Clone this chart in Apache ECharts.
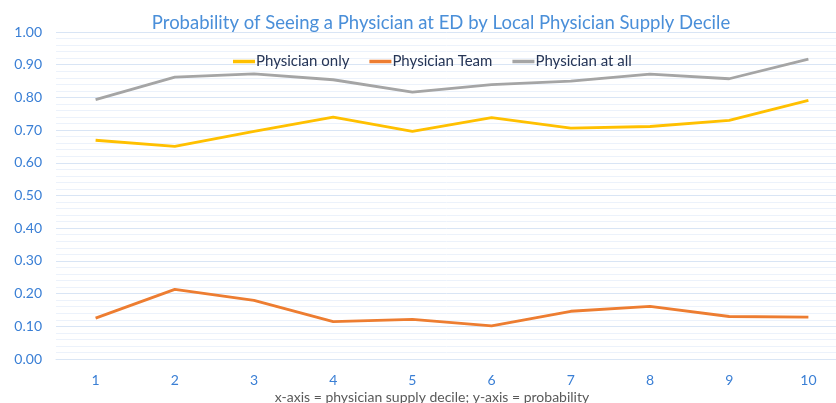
<!DOCTYPE html>
<html>
<head>
<meta charset="utf-8">
<script src="https://cdn.jsdelivr.net/npm/echarts@6/dist/echarts.min.js"></script>
<style>html,body{margin:0;padding:0;background:#fff;}#c{width:836px;height:403px;}</style>
</head>
<body>
<div id="c"></div>
<script>
var categories = ['1','2','3','4','5','6','7','8','9','10'];
var physicianOnly = [0.669, 0.650, 0.696, 0.740, 0.696, 0.738, 0.706, 0.711, 0.730, 0.791];
var physicianTeam = [0.125, 0.213, 0.179, 0.114, 0.121, 0.101, 0.146, 0.161, 0.130, 0.128];
var physicianAtAll = [0.793, 0.862, 0.872, 0.854, 0.816, 0.839, 0.850, 0.871, 0.857, 0.917];
var seriesNames = ['Physician only', 'Physician Team', 'Physician at all'];
var titleText = 'Probability of Seeing a Physician at ED by Local Physician Supply Decile';
var axisNote = 'x-axis = physician supply decile; y-axis = probability';

var FONT = 'Lato, "Noto Sans", sans-serif';
var chart = echarts.init(document.getElementById('c'), null, {renderer: 'canvas'});
chart.setOption({
  animation: false,
  backgroundColor: '#ffffff',
  title: [
    {text: titleText, left: 436, top: 9, textAlign: 'center',
     textStyle: {fontFamily: FONT, fontSize: 18.5, fontWeight: 'normal', color: '#4a8fd9'}},
    {text: axisNote, left: 427, top: 385, textAlign: 'center',
     textStyle: {fontFamily: FONT, fontSize: 14, fontWeight: 'normal', color: '#595959'}}
  ],
  legend: {
    data: seriesNames,
    left: 228, top: 49,
    icon: 'rect', itemWidth: 22, itemHeight: 3.5, itemGap: 20,
    textStyle: {fontFamily: FONT, fontSize: 15, color: '#263556', padding: [0,0,0,-4]}
  },
  grid: {left: 56, top: 32, width: 792, height: 327, containLabel: false, outerBoundsMode: 'none'},
  xAxis: {
    type: 'category', data: categories, boundaryGap: true,
    axisLine: {show: true, lineStyle: {color: '#dae6f5'}},
    axisTick: {show: false},
    axisLabel: {fontFamily: FONT, fontSize: 14, color: '#3a7fd5', margin: 14},
    splitLine: {show: false}
  },
  yAxis: {
    type: 'value', min: 0, max: 1, interval: 0.1,
    axisLine: {show: false}, axisTick: {show: false},
    axisLabel: {fontFamily: FONT, fontSize: 14, color: '#3a7fd5', margin: 14,
      formatter: function (v) { return v.toFixed(2); }},
    splitLine: {show: true, lineStyle: {color: '#d9e5f5', width: 1}},
    minorTick: {show: false, splitNumber: 5},
    minorSplitLine: {show: true, lineStyle: {color: '#ecf2fb', width: 1}}
  },
  series: [
    {name: seriesNames[0], type: 'line', data: physicianOnly, showSymbol: false, symbol: 'none',
     lineStyle: {color: '#FFC000', width: 2.8}, itemStyle: {color: '#FFC000'}},
    {name: seriesNames[1], type: 'line', data: physicianTeam, showSymbol: false, symbol: 'none',
     lineStyle: {color: '#ED7D31', width: 2.8}, itemStyle: {color: '#ED7D31'}},
    {name: seriesNames[2], type: 'line', data: physicianAtAll, showSymbol: false, symbol: 'none',
     lineStyle: {color: '#A5A5A5', width: 2.8}, itemStyle: {color: '#A5A5A5'}}
  ]
});
</script>
</body>
</html>
